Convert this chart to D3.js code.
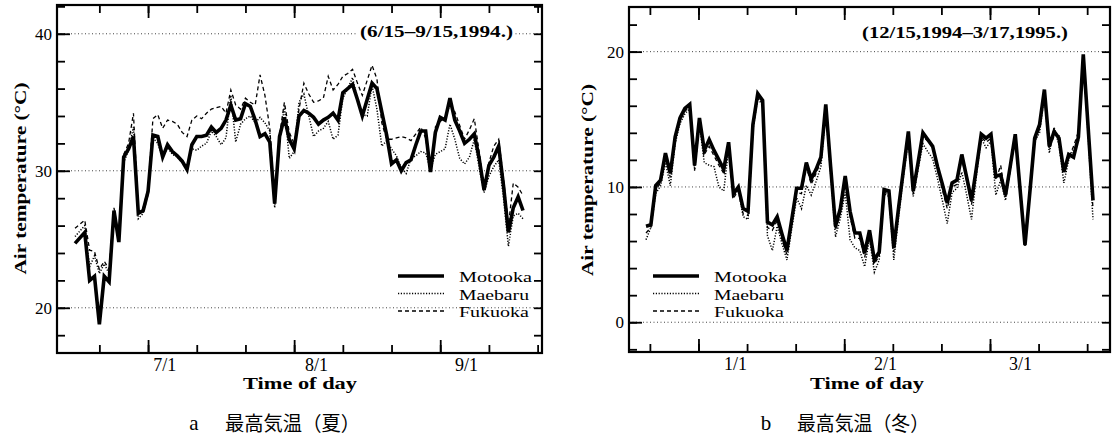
<!DOCTYPE html>
<html>
<head>
<meta charset="utf-8">
<script src="https://cdn.jsdelivr.net/npm/d3@7/dist/d3.min.js"></script>
<style>
  body { margin: 0; background: #fff; }
  svg { display: block; }
</style>
</head>
<body>
<svg id="chart" width="1119" height="441"></svg>
<script>
// daily maximum air temperature, 3 stations
const stations = ["Motooka", "Maebaru", "Fukuoka"];

// summer 6/15 - 9/15, 1994 (day 0 = 6/15)
const summerMotooka = [24.7, 25.1, 25.5, 22.0, 22.3, 18.8, 22.3, 21.9, 27.1, 24.8,
  31.0, 31.6, 32.5, 26.9, 27.1, 28.5, 32.6, 32.5, 31.0, 31.9,
  31.4, 31.1, 30.7, 30.1, 31.9, 32.5, 32.5, 32.6, 33.2, 32.8,
  33.1, 33.7, 34.8, 33.7, 33.8, 34.9, 34.7, 33.7, 32.5, 32.7,
  32.1, 27.6, 32.5, 33.9, 32.3, 31.6, 34.0, 34.4, 34.2, 33.9,
  33.4, 33.7, 33.9, 34.2, 33.7, 35.7, 36.0, 36.3, 35.2, 34.0,
  35.2, 36.4, 36.0, 34.3, 32.6, 30.5, 30.8, 30.0, 30.6, 30.8,
  31.9, 32.9, 32.9, 29.9, 32.8, 33.9, 33.7, 35.3, 33.7, 32.9,
  32.0, 32.3, 32.7, 30.9, 28.6, 30.4, 31.0, 31.8, 28.9, 25.5,
  27.3, 28.1, 27.1];
const summerMaebaru = [25.2, 25.6, 26.0, 23.0, 23.8, 22.5, 23.2, 22.5, 26.8, 25.0,
  30.6, 31.5, 33.2, 26.5, 26.9, 28.3, 32.4, 32.0, 31.0, 31.7,
  31.2, 31.0, 30.6, 30.0, 31.6, 31.5, 31.8, 32.0, 32.9, 32.5,
  31.9, 32.4, 35.5, 32.1, 33.4, 33.8, 34.0, 33.5, 33.9, 33.5,
  32.9, 27.3, 32.1, 34.7, 30.9, 31.4, 35.0, 35.6, 34.0, 32.5,
  32.9, 33.1, 33.6, 32.3, 32.6, 35.3, 36.0, 36.8, 35.2, 34.1,
  34.0, 36.2, 34.5, 31.8, 32.2, 31.6, 31.1, 30.2, 29.8, 30.9,
  31.1, 31.4, 31.3, 30.1, 31.2, 31.4, 31.6, 33.4, 32.3, 30.9,
  30.5, 31.0, 32.3, 30.2, 28.4, 29.6, 30.3, 30.8, 28.0, 24.5,
  26.7, 26.9, 26.5];
const summerFukuoka = [25.8, 26.1, 26.4, 24.2, 24.1, 22.8, 23.4, 22.8, 27.3, 25.2,
  31.2, 32.0, 34.2, 27.0, 27.3, 28.7, 33.8, 34.1, 33.1, 33.7,
  33.6, 33.4, 32.8, 32.5, 33.7, 34.0, 33.8, 34.2, 34.5, 34.6,
  34.7, 34.2, 35.9, 34.8, 34.5, 35.3, 35.0, 34.8, 37.0, 35.5,
  33.1, 27.8, 32.6, 35.0, 32.8, 32.0, 34.5, 36.4, 35.6, 35.0,
  35.1, 35.3, 36.9, 35.9, 36.3, 36.9, 37.1, 37.4, 36.4, 35.5,
  36.6, 37.7, 36.7, 33.5, 32.3, 32.3, 32.4, 32.5, 32.4, 32.2,
  32.7, 33.2, 32.4, 30.1, 33.2, 33.6, 33.9, 34.8, 34.3, 33.3,
  32.3, 33.0, 33.8, 31.4, 28.7, 30.6, 31.8, 32.3, 29.4, 26.0,
  29.1, 28.8, 28.2];

// winter 12/15/1994 - 3/17/1995 (day 0 = 12/15)
const winterMotooka = [7.1, 7.2, 10.1, 10.5, 12.5, 11.0, 13.7, 15.1, 15.8, 16.1,
  11.6, 15.1, 12.7, 13.5, 12.7, 12.0, 11.3, 13.3, 9.5, 10.0,
  8.4, 8.2, 14.6, 16.9, 16.4, 7.4, 7.2, 7.8, 6.5, 5.3,
  7.6, 9.9, 9.9, 11.8, 10.6, 11.3, 12.2, 16.1, 11.5, 7.1,
  8.4, 10.8, 8.2, 6.6, 6.6, 5.1, 6.8, 4.6, 5.2, 9.8,
  9.7, 5.5, 8.5, 11.3, 14.1, 9.7, 11.8, 14.0, 13.5, 13.0,
  11.5, 10.2, 8.8, 10.3, 10.5, 12.4, 10.7, 9.0, 11.4, 13.9,
  13.6, 13.9, 10.8, 10.9, 9.4, 11.6, 13.9, 9.8, 5.7, 9.6,
  13.6, 14.6, 17.2, 13.0, 14.1, 13.6, 11.1, 12.4, 12.2, 13.7,
  19.8, 14.4, 9.0];
const winterMaebaru = [6.1, 7.0, 9.5, 10.1, 11.8, 10.1, 13.2, 14.7, 15.4, 15.8,
  11.3, 14.6, 11.8, 11.6, 11.5, 10.0, 9.7, 12.8, 9.3, 9.8,
  7.8, 7.6, 14.2, 16.6, 16.0, 6.4, 5.3, 7.1, 5.8, 4.6,
  6.9, 9.2, 8.4, 10.1, 9.4, 10.4, 11.5, 15.6, 11.0, 6.3,
  7.7, 9.6, 6.1, 5.5, 5.3, 4.1, 6.2, 3.7, 4.6, 9.5,
  9.3, 4.6, 7.8, 10.8, 13.5, 9.3, 11.3, 13.2, 12.6, 12.1,
  10.6, 9.0, 7.3, 9.6, 9.9, 11.1, 9.4, 7.6, 10.8, 13.6,
  12.9, 13.4, 9.4, 10.5, 9.0, 11.4, 13.8, 9.6, 5.6, 9.4,
  13.4, 14.0, 16.8, 12.5, 14.4, 13.1, 10.3, 12.0, 12.8, 13.4,
  19.5, 13.8, 7.6];
const winterFukuoka = [6.6, 7.0, 9.8, 10.3, 12.2, 10.7, 13.4, 14.9, 15.6, 15.9,
  11.2, 14.8, 12.4, 13.0, 12.3, 11.6, 11.0, 13.0, 9.2, 9.7,
  8.0, 7.9, 14.3, 16.7, 16.2, 7.0, 6.8, 7.5, 6.1, 5.0,
  7.2, 9.6, 9.5, 11.5, 10.2, 11.0, 11.9, 15.9, 11.2, 6.8,
  8.1, 10.5, 7.8, 6.2, 6.2, 4.8, 6.5, 4.3, 4.9, 9.6,
  9.5, 5.2, 8.2, 11.0, 13.8, 9.5, 11.6, 13.7, 13.4, 12.9,
  11.2, 9.8, 8.4, 10.0, 10.2, 12.1, 10.4, 8.7, 11.1, 13.7,
  13.3, 13.6, 10.5, 11.6, 9.2, 11.3, 13.6, 9.6, 5.9, 9.5,
  13.3, 14.3, 16.9, 12.8, 13.8, 13.8, 11.4, 12.2, 13.0, 14.1,
  19.3, 14.0, 8.4];

// axis ticks / labels (x in days from start)
const summerTickDays = [5, 15, 25, 35, 45, 55, 65, 75, 85, 95];
const summerMonthLabels = ["7/1", "8/1", "9/1"];
const summerLabelDays = [18.3, 49.5, 80.3];
const summerTempTicks = [20, 30, 40];

const winterTickDays = [0.8, 10.8, 20.8, 30.8, 40.8, 50.8, 60.8, 70.8, 80.8, 90.8];
const winterMonthLabels = ["1/1", "2/1", "3/1"];
const winterLabelDays = [18.3, 49.2, 77.0];
const winterTempTicks = [0, 10, 20];

const serif = "'Liberation Serif', 'Times New Roman', serif";
const cjk = "'Noto Sans CJK JP', sans-serif";

const svg = d3.select("#chart");

function drawPanel(p) {
  const x = d3.scaleLinear().domain(p.xDomain).range([p.left, p.right]);
  const y = d3.scaleLinear().domain(p.yDomain).range([p.bottom, p.top]);
  const g = svg.append("g");
  const majorTickDays = p.tickDays.filter((d, i) => i % 3 == 1);
  const minorTemps = d3.range(Math.ceil(p.yDomain[0] / 2) * 2, p.yDomain[1], 2);

  // dotted grid at labelled temperatures
  g.selectAll(".grid").data(p.tempTicks).enter().append("line")
    .attr("x1", p.left).attr("x2", p.right)
    .attr("y1", d => y(d)).attr("y2", d => y(d))
    .attr("stroke", "#444").attr("stroke-width", 1)
    .attr("stroke-dasharray", "1,2.5");

  // inward ticks on all four sides
  const addAxis = (axis, tx, ty) => {
    const a = g.append("g").attr("transform", "translate(" + tx + "," + ty + ")").call(axis);
    a.select(".domain").remove();
    a.selectAll("line").attr("stroke", "#000").attr("stroke-width", 1.8);
    return a;
  };
  addAxis(d3.axisLeft(y).tickValues(minorTemps).tickSize(-8).tickFormat(""), p.left, 0);
  addAxis(d3.axisRight(y).tickValues(minorTemps).tickSize(-8).tickFormat(""), p.right, 0);
  addAxis(d3.axisBottom(x).tickValues(p.tickDays).tickSize(-8).tickFormat(""), 0, p.bottom);
  addAxis(d3.axisTop(x).tickValues(p.tickDays).tickSize(-8).tickFormat(""), 0, p.top);
  addAxis(d3.axisBottom(x).tickValues(majorTickDays).tickSize(-13).tickFormat(""), 0, p.bottom);
  addAxis(d3.axisTop(x).tickValues(majorTickDays).tickSize(-13).tickFormat(""), 0, p.top);

  const yl = addAxis(d3.axisLeft(y).tickValues(p.tempTicks).tickSize(-13).tickPadding(5), p.left, 0);
  yl.selectAll("text").attr("font-family", serif).attr("font-size", 17).attr("fill", "#000");

  const xl = addAxis(d3.axisBottom(x).tickValues(p.labelDays).tickSize(0).tickPadding(5)
    .tickFormat((d, i) => p.monthLabels[i]), 0, p.bottom);
  xl.selectAll("text").attr("font-family", serif).attr("font-size", 18).attr("fill", "#000");

  // frame
  g.append("rect")
    .attr("x", p.left).attr("y", p.top)
    .attr("width", p.right - p.left).attr("height", p.bottom - p.top)
    .attr("fill", "none").attr("stroke", "#000").attr("stroke-width", 2.2);

  // series
  const styles = [
    { w: 3.6, dash: null },
    { w: 1.5, dash: "1.2,1.6" },
    { w: 1.3, dash: "4,3" }
  ];
  const line = d3.line().x((d, i) => x(i)).y(d => y(d));
  [2, 1, 0].forEach(k => {
    g.append("path").datum(p.series[k])
      .attr("d", line)
      .attr("fill", "none").attr("stroke", "#000")
      .attr("stroke-width", styles[k].w)
      .attr("stroke-linejoin", "miter")
      .attr("stroke-dasharray", styles[k].dash);
  });

  // period note (white background hides the grid behind it)
  const noteBg = g.append("rect").attr("fill", "#fff");
  const note = g.append("text")
    .attr("x", p.noteX).attr("y", p.noteY)
    .attr("font-family", serif).attr("font-weight", "bold").attr("font-size", 17)
    .attr("textLength", p.noteLen).attr("lengthAdjust", "spacingAndGlyphs")
    .text(p.note);
  const bb = note.node().getBBox();
  noteBg.attr("x", bb.x - 2).attr("y", bb.y).attr("width", bb.width + 4).attr("height", bb.height);

  // legend
  const leg = g.append("g");
  stations.forEach((s, k) => {
    const ly = p.legendY + k * 17.5;
    leg.append("line")
      .attr("x1", p.legendX).attr("x2", p.legendX + 46)
      .attr("y1", ly).attr("y2", ly)
      .attr("stroke", "#000").attr("stroke-width", styles[k].w)
      .attr("stroke-dasharray", styles[k].dash);
    leg.append("text")
      .attr("x", p.legendX + 61).attr("y", ly + 6)
      .attr("font-family", serif).attr("font-size", 15.5)
      .attr("textLength", k == 0 ? 73 : 70).attr("lengthAdjust", "spacingAndGlyphs")
      .text(s);
  });

  // axis titles
  g.append("text")
    .attr("transform", "translate(" + p.yTitleX + "," + p.yTitleY + ") rotate(-90)")
    .attr("text-anchor", "middle").attr("dy", "0.35em")
    .attr("font-family", serif).attr("font-weight", "bold").attr("font-size", 17)
    .attr("textLength", 192).attr("lengthAdjust", "spacingAndGlyphs")
    .text("Air temperature (\u00b0C)");
  g.append("text")
    .attr("x", p.xTitleX).attr("y", 389)
    .attr("text-anchor", "middle")
    .attr("font-family", serif).attr("font-weight", "bold").attr("font-size", 17)
    .attr("textLength", 114).attr("lengthAdjust", "spacingAndGlyphs")
    .text("Time of day");

  // caption
  g.append("text")
    .attr("x", p.capX).attr("y", 430).attr("text-anchor", "middle")
    .attr("font-family", serif).attr("font-size", 21)
    .text(p.capLetter);
  g.append("text")
    .attr("x", p.capX + 31).attr("y", 431)
    .attr("font-family", cjk).attr("font-size", 20)
    .attr("textLength", p.capLen).attr("lengthAdjust", "spacingAndGlyphs")
    .text(p.caption);
}

drawPanel({
  left: 57, right: 542, top: 5, bottom: 353,
  xDomain: [-3.7, 95.9], yDomain: [16.7, 42.1],
  series: [summerMotooka, summerMaebaru, summerFukuoka],
  tickDays: summerTickDays, labelDays: summerLabelDays, monthLabels: summerMonthLabels,
  tempTicks: summerTempTicks,
  note: "(6/15\u20139/15,1994.)", noteX: 360, noteY: 37, noteLen: 153,
  legendX: 398, legendY: 276,
  yTitleX: 20, yTitleY: 178.5, xTitleX: 300,
  capX: 194, capLetter: "a", caption: "最高気温（夏）", capLen: 135
});

drawPanel({
  left: 629, right: 1110, top: 7, bottom: 352,
  xDomain: [-3.5, 95.5], yDomain: [-2.2, 23.3],
  series: [winterMotooka, winterMaebaru, winterFukuoka],
  tickDays: winterTickDays, labelDays: winterLabelDays, monthLabels: winterMonthLabels,
  tempTicks: winterTempTicks,
  note: "(12/15,1994\u20133/17,1995.)", noteX: 862, noteY: 38, noteLen: 206,
  legendX: 653, legendY: 276,
  yTitleX: 587, yTitleY: 180, xTitleX: 867,
  capX: 766, capLetter: "b", caption: "最高気温（冬）", capLen: 132
});
</script>
</body>
</html>
